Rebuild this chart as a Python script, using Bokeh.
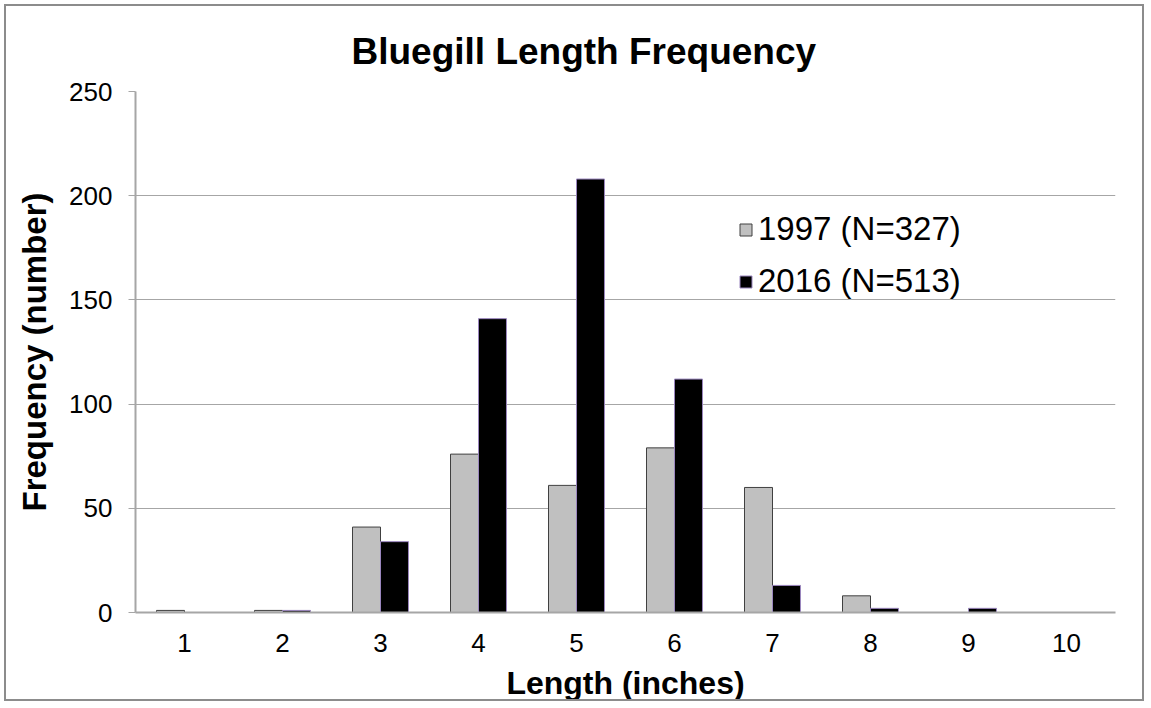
from bokeh.plotting import figure
from bokeh.models import Range1d, ColumnDataSource, Legend, LegendItem, FixedTicker
from bokeh.embed import file_html
from bokeh.resources import INLINE
from bokeh.transform import dodge

lengths = [1, 2, 3, 4, 5, 6, 7, 8, 9, 10]
freq_1997 = [1, 1, 41, 76, 61, 79, 60, 8, 0, 0]
freq_2016 = [0, 1, 34, 141, 208, 112, 13, 2, 2, 0]
series_labels = ["1997 (N=327)", "2016 (N=513)"]
y_ticks = [0, 50, 100, 150, 200, 250]

src = ColumnDataSource(dict(x=lengths, a=freq_1997, b=freq_2016))

FONT = "Liberation Sans"
p = figure(width=1140, height=697, output_backend="svg", toolbar_location=None,
           x_range=Range1d(0.5, 10.5), y_range=Range1d(0, 250),
           min_border_left=129, min_border_right=31, min_border_top=85, min_border_bottom=91)

p.title.text = "Bluegill Length Frequency"
p.title.text_font = FONT
p.title.text_font_size = "37px"
p.title.text_font_style = "bold"
p.title.text_color = "#000000"
p.title.align = "left"
p.title.offset = 216
p.title.standoff = 40

bw = 0.2857
r1 = p.vbar(x=dodge("x", -bw / 2, range=p.x_range), top="a", width=bw, source=src,
            fill_color="#C0C0C0", line_color="#404040", line_width=1)
r2 = p.vbar(x=dodge("x", bw / 2, range=p.x_range), top="b", width=bw, source=src,
            fill_color="#000000", line_color="#9A86BE", line_width=1)

p.outline_line_color = None
p.xgrid.grid_line_color = None
p.ygrid.grid_line_color = "#A6A6A6"
p.ygrid.grid_line_width = 1

p.yaxis.ticker = FixedTicker(ticks=y_ticks)
p.xaxis.ticker = FixedTicker(ticks=lengths)
for ax in (p.xaxis[0], p.yaxis[0]):
    ax.axis_line_color = "#A6A6A6"
    ax.axis_line_width = 2
    ax.major_tick_line_color = "#A6A6A6"
    ax.minor_tick_line_color = None
    ax.major_label_text_font = FONT
    ax.major_label_text_font_size = "26px"
    ax.major_label_text_color = "#000000"
    ax.axis_label_text_font = FONT
    ax.axis_label_text_font_size = "32px"
    ax.axis_label_text_font_style = "bold"
    ax.axis_label_text_color = "#000000"

p.yaxis.major_tick_in = 0
p.yaxis.major_tick_out = 7
p.yaxis.major_label_standoff = 16
p.yaxis.axis_label = "Frequency (number)"
p.yaxis.axis_label_text_font_size = "33px"
p.yaxis.axis_label_standoff = 13

p.xaxis.major_tick_in = 0
p.xaxis.major_tick_out = 0
p.xaxis.major_label_standoff = 21
p.xaxis.axis_label = "Length (inches)"
p.xaxis.axis_label_standoff = 10

legend = Legend(items=[LegendItem(label=series_labels[0], renderers=[r1]),
                       LegendItem(label=series_labels[1], renderers=[r2])],
                location=(603, 312), orientation="vertical",
                label_text_font=FONT, label_text_font_size="33px",
                label_text_color="#000000", label_height=34,
                glyph_width=15, glyph_height=15, label_standoff=5,
                spacing=14, padding=0, margin=0,
                border_line_color=None, background_fill_alpha=0)
p.add_layout(legend, "center")

p.styles = {"border": "2px solid #8C8C8C", "margin-left": "4px", "margin-top": "4px"}

open("out.html", "w").write(file_html(p, INLINE))
